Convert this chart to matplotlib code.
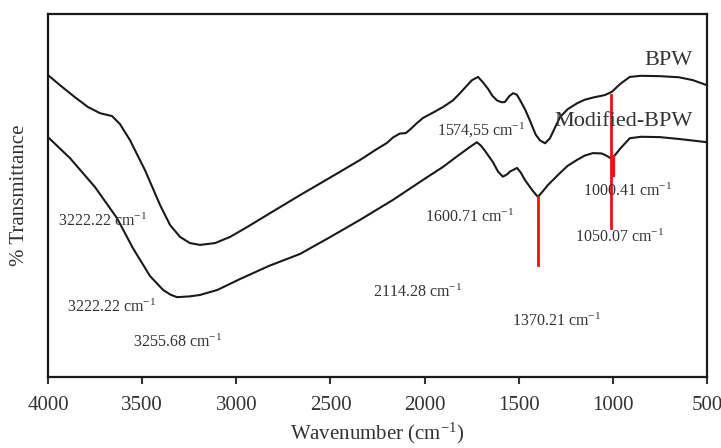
import matplotlib.pyplot as plt

plt.rcParams['font.family'] = ['Liberation Serif', 'DejaVu Serif']
plt.rcParams['mathtext.fontset'] = 'custom'
plt.rcParams['mathtext.rm'] = 'Liberation Serif'
plt.rcParams['mathtext.it'] = 'Liberation Serif'

# BPW spectrum (wavenumber, % transmittance, arbitrary offset)
bpw_w = [4000, 3936, 3857, 3788, 3724, 3660, 3618, 3565, 3485, 3405, 3352, 3299,
         3246, 3193, 3113, 3033, 2943, 2800, 2662, 2500, 2343, 2263, 2200, 2168,
         2131, 2100, 2077, 2040, 2008, 1950, 1902, 1850, 1812, 1770, 1748, 1716,
         1690, 1663, 1640, 1615, 1590, 1573, 1550, 1530, 1510, 1493, 1465, 1440,
         1410, 1387, 1360, 1334, 1305, 1281, 1240, 1191, 1150, 1106, 1042, 1005,
         960, 910, 850, 750, 650, 575, 500]
bpw_t = [83.2, 80.4, 77.1, 74.4, 72.7, 71.9, 69.7, 65.3, 57.0, 47.4, 41.9, 38.6,
         36.9, 36.4, 36.9, 38.6, 41.3, 45.8, 50.1, 55.0, 59.8, 62.5, 64.5, 66.0,
         67.1, 67.2, 68.2, 70.0, 71.4, 73.0, 74.4, 76.2, 78.2, 80.6, 81.8, 82.7,
         81.2, 79.4, 77.5, 76.2, 75.7, 75.8, 77.4, 78.2, 77.8, 76.3, 73.6, 70.6,
         66.8, 65.2, 64.4, 65.8, 69.0, 71.6, 73.8, 75.4, 76.4, 77.0, 77.7, 78.6,
         80.8, 82.7, 83.0, 82.9, 82.6, 81.8, 80.4]

# Modified-BPW spectrum
mod_w = [4000, 3883, 3750, 3634, 3549, 3458, 3389, 3350, 3315, 3250, 3193, 3100,
         2980, 2827, 2662, 2500, 2343, 2168, 2000, 1902, 1820, 1759, 1722, 1700,
         1679, 1637, 1610, 1584, 1560, 1547, 1509, 1490, 1467, 1430, 1398, 1370,
         1345, 1281, 1240, 1191, 1150, 1106, 1060, 1042, 1005, 960, 910, 850,
         750, 650, 500]
mod_t = [66.1, 60.3, 52.3, 43.8, 35.5, 27.8, 24.0, 22.7, 22.0, 22.2, 22.6, 24.0,
         27.0, 30.6, 33.9, 38.6, 43.3, 48.8, 54.6, 57.9, 61.1, 63.4, 64.7, 63.7,
         62.3, 59.2, 56.6, 55.2, 55.9, 56.6, 57.6, 56.4, 54.3, 51.6, 49.6, 51.3,
         52.9, 56.2, 58.2, 59.8, 61.0, 61.7, 61.6, 61.2, 60.1, 63.0, 65.8, 66.2,
         66.1, 65.6, 64.7]

# red marker lines
red_w = [1398, 1010, 1000]
red_top = [49.6, 77.7, 60.6]
red_bot = [30.9, 41.0, 55.7]

# peak labels
peak_labels = ["3222.22 cm$^{-1}$", "3222.22 cm$^{-1}$", "3255.68 cm$^{-1}$",
               "2114.28 cm$^{-1}$", "1370.21 cm$^{-1}$", "1050.07 cm$^{-1}$",
               "1600.71 cm$^{-1}$", "1574,55 cm$^{-1}$", "1000.41 cm$^{-1}$"]
peak_x = [3947, 3899, 3549, 2274, 1536, 1201, 1998, 1935, 1159]
peak_y = [43.0, 19.3, 9.6, 23.4, 15.4, 38.6, 44.1, 67.8, 51.2]

fig = plt.figure(figsize=(7.21, 4.48), dpi=100)
ax = fig.add_axes([0.0666, 0.1585, 0.914, 0.810])

ax.plot(bpw_w, bpw_t, color='#1a1a1a', lw=1.5, solid_joinstyle='round')
ax.plot(mod_w, mod_t, color='#1a1a1a', lw=1.5, solid_joinstyle='round')
for i in range(len(red_w)):
    ax.plot([red_w[i], red_w[i]], [red_bot[i], red_top[i]], color='#ee1111', lw=2 if i < 2 else 3)

for i in range(len(peak_labels)):
    ax.text(peak_x[i], peak_y[i], peak_labels[i], fontsize=11.5, color='#333333',
            ha='left', va='center')

ax.text(575, 87.3, "BPW", fontsize=16, color='#333333', ha='right', va='center')
ax.text(575, 70.3, "Modified-BPW", fontsize=16, color='#333333', ha='right', va='center')

ax.set_xlim(4000, 500)
ax.set_ylim(0, 100)
ax.set_xticks([4000, 3500, 3000, 2500, 2000, 1500, 1000, 500])
ax.set_yticks([])
ax.tick_params(axis='x', labelsize=15, direction='out', length=5, width=1.5,
               colors='#333333', pad=9)
for s in ax.spines.values():
    s.set_linewidth(1.6)
    s.set_color('#1a1a1a')

ax.set_xlabel("Wavenumber (cm$^{-1}$)", fontsize=15, color='#333333', labelpad=4)
ax.set_ylabel("% Transmittance", fontsize=15, color='#333333', labelpad=14)

fig.savefig("out.png", dpi=100)
